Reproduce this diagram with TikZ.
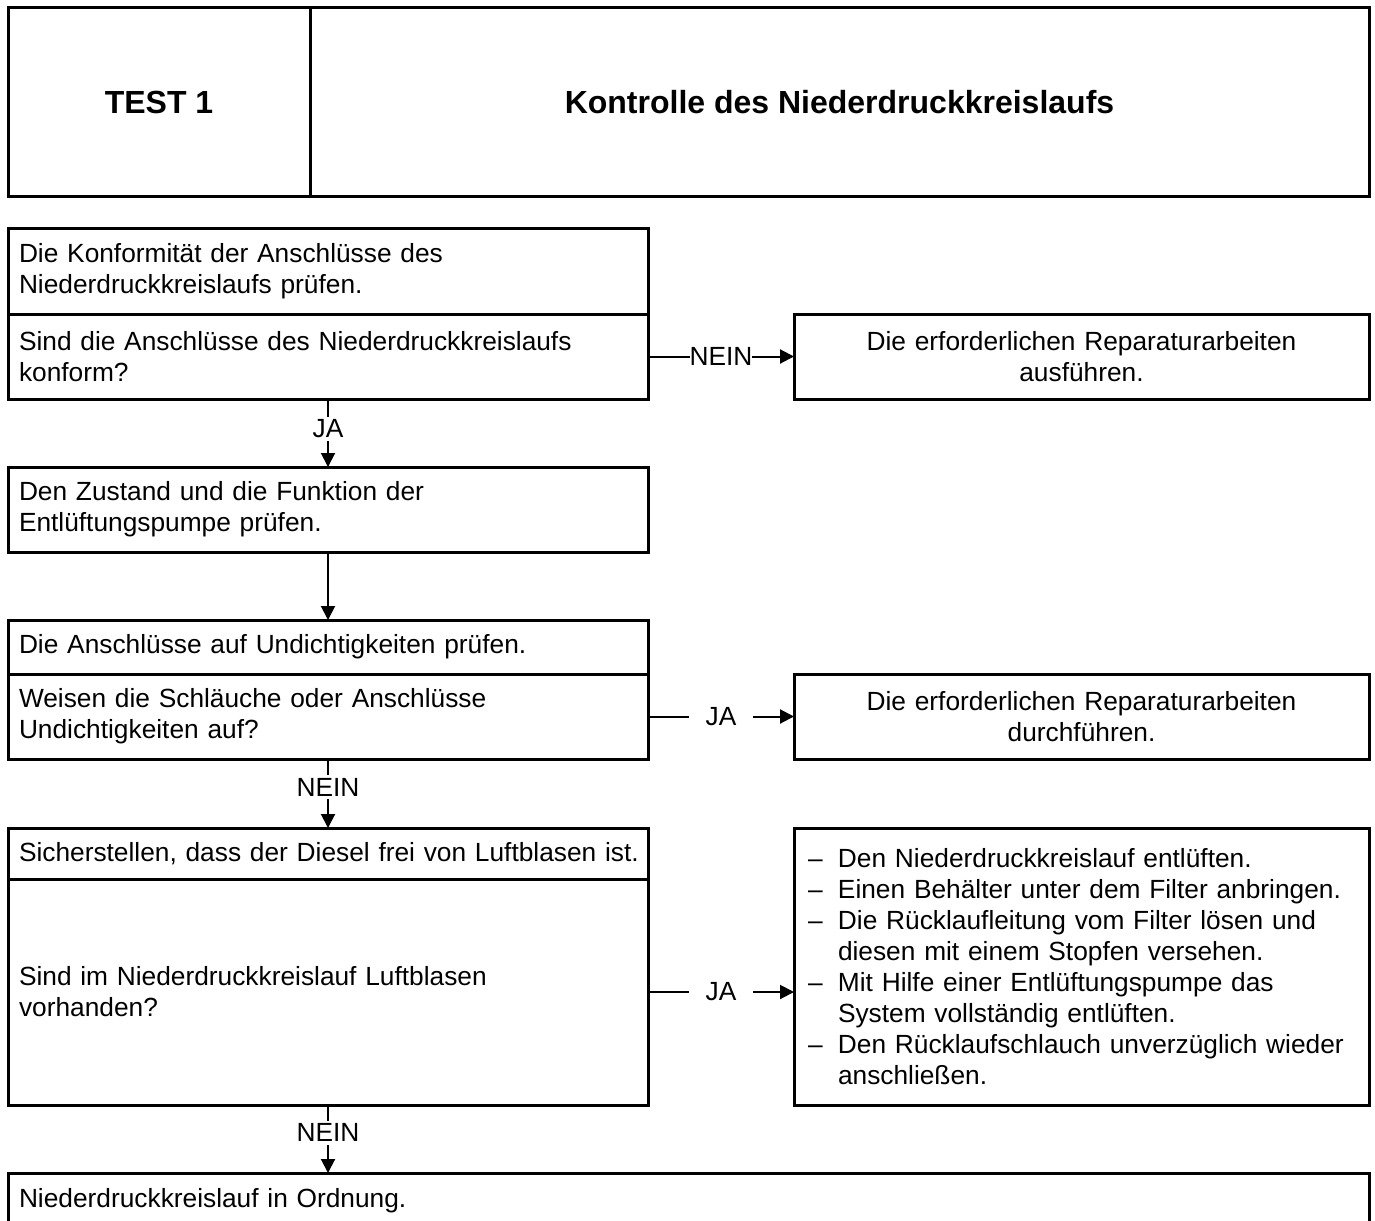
\documentclass[tikz,border=0pt]{standalone}
\usepackage{fontspec}
\setmainfont{Liberation Sans}
\usetikzlibrary{arrows.meta}

\tikzset{
  txt/.style={font=\fontsize{26.3}{31}\selectfont},
  box/.style={draw, line width=3pt, rectangle, anchor=north west, outer sep=0pt,
    inner xsep=11pt, inner ysep=0pt, align=left, txt},
  rbox/.style={draw, line width=3pt, rectangle, anchor=north west, outer sep=0pt,
    inner xsep=14pt, inner ysep=0pt, txt},
  headbox/.style={draw, line width=3pt, rectangle, anchor=north west, outer sep=0pt,
    inner sep=0pt, font=\fontsize{32}{38}\selectfont\bfseries},
  conn/.style={line width=2pt, -{Triangle[length=14pt,width=14pt]}},
  lbl/.style={fill=white, txt, inner ysep=3pt, inner xsep=0pt},
  lblgap/.style={fill=white, txt, inner ysep=3pt, inner xsep=17pt},
}

\begin{document}
\begin{tikzpicture}[x=1pt, y=-1pt]
  \useasboundingbox (0,0) rectangle (1375,1220);
  \clip (0,0) rectangle (1375,1220);
  \fill[white] (0,0) rectangle (1375,1220);

  % header
  \node[headbox, minimum width=302pt, minimum height=188pt] (hdrL) at (8,8) {TEST 1};
  \node[headbox, minimum width=1059pt, minimum height=188pt] (hdrR) at (310,8) {Kontrolle des Niederdruckkreislaufs};

  % step 1
  \node[box, text width=618pt, minimum height=86pt] (c1) at (8,228)
    {Die Konformität der Anschlüsse des\\Niederdruckkreislaufs prüfen.};
  \node[box, text width=618pt, minimum height=85pt] (q1) at (8,314)
    {Sind die Anschlüsse des Niederdruckkreislaufs\\konform?};
  \node[rbox, text width=547pt, minimum height=85pt, align=center] (r1) at (794,314)
    {Die erforderlichen Reparaturarbeiten\\ausführen.};

  % step 2
  \node[box, text width=618pt, minimum height=85pt] (c2) at (8,467)
    {Den Zustand und die Funktion der\\Entlüftungspumpe prüfen.};

  % step 3
  \node[box, text width=618pt, minimum height=54pt] (c3) at (8,620)
    {Die Anschlüsse auf Undichtigkeiten prüfen.};
  \node[box, text width=618pt, minimum height=85pt] (q3) at (8,674)
    {Weisen die Schläuche oder Anschlüsse\\Undichtigkeiten auf?};
  \node[rbox, text width=547pt, minimum height=85pt, align=center] (r3) at (794,674)
    {Die erforderlichen Reparaturarbeiten\\durchführen.};

  % step 4
  \node[box, text width=618pt, minimum height=51pt] (c4) at (8,828)
    {\mbox{Sicherstellen, dass der Diesel frei von Luftblasen ist.}};
  \node[box, text width=618pt, minimum height=226pt] (q4) at (8,879)
    {Sind im Niederdruckkreislauf Luftblasen\\vorhanden?};
  \node[rbox, text width=547pt, minimum height=277pt, align=left] (r4) at (794,828)
    {\makebox[30pt][l]{–}Den Niederdruckkreislauf entlüften.\\
     \makebox[30pt][l]{–}Einen Behälter unter dem Filter anbringen.\\
     \makebox[30pt][l]{–}Die Rücklaufleitung vom Filter lösen und\\
     \hspace*{30pt}diesen mit einem Stopfen versehen.\\
     \makebox[30pt][l]{–}Mit Hilfe einer Entlüftungspumpe das\\
     \hspace*{30pt}System vollständig entlüften.\\
     \makebox[30pt][l]{–}Den Rücklaufschlauch unverzüglich wieder\\
     \hspace*{30pt}anschließen.};

  % result
  \node[box, text width=1339pt, minimum height=55pt] (ok) at (8,1173)
    {Niederdruckkreislauf in Ordnung.};

  % connectors
  \draw[conn] (q1.east) -- node[lbl] {NEIN} (r1.west);
  \draw[conn] (q1.south) -- node[lbl, pos=0.44] {JA} (c2.north);
  \draw[conn] (c2.south) -- (c3.north);
  \draw[conn] (q3.east) -- node[lblgap] {JA} (q3.east -| r3.west);
  \draw[conn] (q3.south) -- node[lbl, pos=0.41] {NEIN} (c4.north);
  \draw[conn] (q4.east) -- node[lblgap] {JA} (q4.east -| r4.west);
  \draw[conn] (q4.south) -- node[lbl, pos=0.41] {NEIN} (q4.south |- ok.north);
\end{tikzpicture}
\end{document}
